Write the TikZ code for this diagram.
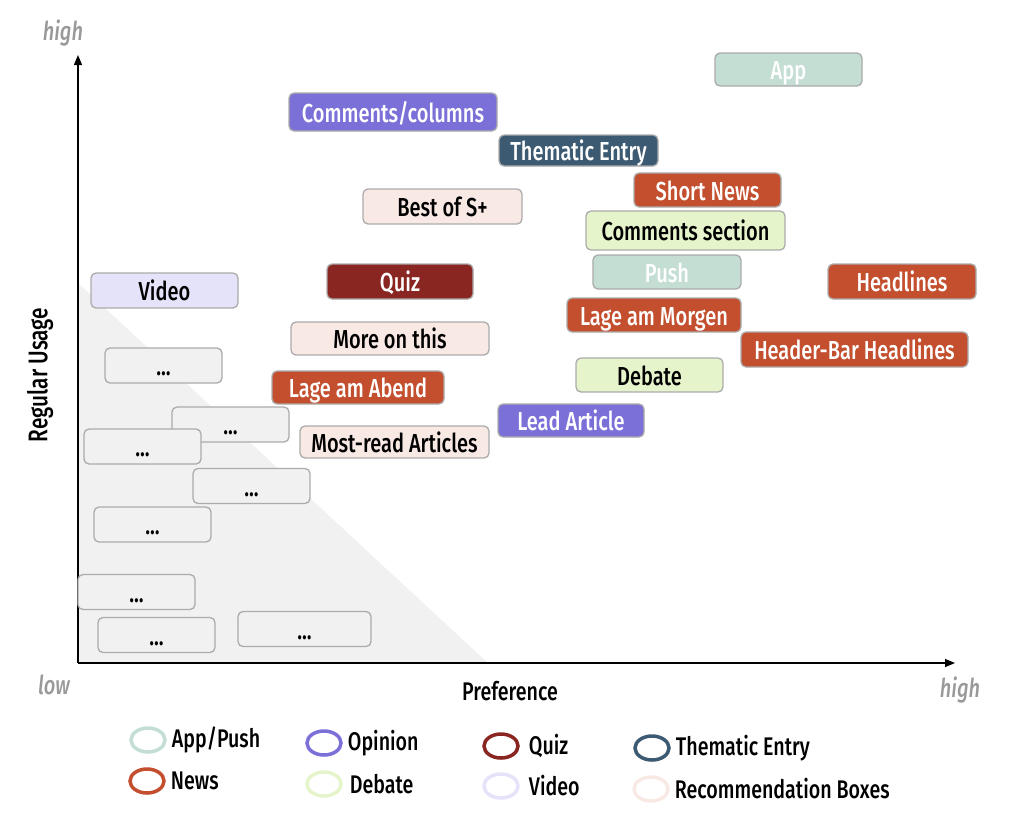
\documentclass[tikz,border=0pt]{standalone}
\usepackage{fontspec}
\setmainfont{Fira Sans}[FakeStretch=0.77, UprightFont=* Medium, ItalicFont=* Medium Italic]
\usetikzlibrary{arrows.meta,positioning,shapes.geometric}
\definecolor{cApp}{HTML}{C4DED4}
\definecolor{cOpinion}{HTML}{7A70D8}
\definecolor{cThema}{HTML}{3D5A73}
\definecolor{cNews}{HTML}{C34F2E}
\definecolor{cReco}{HTML}{F9E9E5}
\definecolor{cDebate}{HTML}{E5F4CB}
\definecolor{cQuiz}{HTML}{8A2622}
\definecolor{cVideo}{HTML}{E5E3F9}
\definecolor{cMisc}{HTML}{F1F1F1}
\definecolor{cLine}{HTML}{ABABAB}
\definecolor{cLow}{HTML}{999999}
\tikzset{
  box/.style={draw=cLine, rounded corners=5pt, line width=1.3pt, inner sep=0pt,
    font=\fontsize{26}{28}\selectfont, text height=24pt, text depth=4pt},
  dots/.style={box, fill=cMisc, minimum width=117pt, minimum height=35pt},
  ring/.style={ellipse, line width=3.5pt, minimum width=34pt, minimum height=24pt, inner sep=0pt},
  legend/.style={font=\fontsize{25.5}{27}\selectfont, inner sep=0pt, anchor=west},
  level/.style={font=\fontsize{26}{28}\selectfont\itshape, text=cLow}
}
\begin{document}
\begin{tikzpicture}[x=1pt,y=-1pt]
\useasboundingbox (0,0) rectangle (1024,815);
% grey corner
\fill[cMisc] (78,283) -- (78,663) -- (488,663) -- cycle;
% axes
\coordinate (O) at (78,663);
\coordinate (ytop) at (78,55);
\coordinate (xend) at (955,663);
\draw[line width=1.2pt,-{Triangle[length=10pt,width=8pt]}] (O) -- (ytop);
\draw[line width=1.2pt,-{Triangle[length=10pt,width=8pt]}] (O) -- (xend);
\node[level] (yhigh) at (63,33) {high};
\node[level] (xlow) at (54,685) {low};
\node[level] (xhigh) at (960,690) {high};
\node[font=\fontsize{25.5}{27}\selectfont] (pref) at (510,691) {Preference};
\node[font=\fontsize{27}{29}\selectfont, rotate=90] (usage) at (40,375) {Regular Usage};
% other features
\node[dots] (d1) at (163.5,365.5) {...};
\node[dots] (d2) at (230.5,424.5) {...};
\node[dots] (d3) at (142.5,446.5) {...};
\node[dots] (d4) at (251.5,486) {...};
\node[dots] (d5) at (152.5,524.5) {...};
\node[dots] (d6) at (136.5,592) {...};
\node[dots] (d7) at (156.5,635) {...};
\node[dots, minimum width=133pt] (d8) at (304.5,629) {...};
% features
\node[box, fill=cApp, text=white, minimum width=147pt, minimum height=33pt] (app) at (788.5,69.5) {App};
\node[box, fill=cOpinion, text=white, minimum width=208pt, minimum height=38pt] (comcol) at (393,112) {Comments/columns};
\node[box, fill=cThema, text=white, minimum width=159pt, minimum height=31pt] (thema) at (578.5,150.5) {Thematic Entry};
\node[box, fill=cNews, text=white, minimum width=147pt, minimum height=34pt] (short) at (707.5,190) {Short News};
\node[box, fill=cReco, minimum width=159pt, minimum height=35pt] (best) at (442.5,206.5) {Best of S+};
\node[box, fill=cDebate, minimum width=199pt, minimum height=39pt] (comsec) at (685.5,230.5) {Comments section};
\node[box, fill=cApp, text=white, minimum width=148pt, minimum height=34pt] (push) at (667,272) {Push};
\node[box, fill=cNews, text=white, minimum width=148pt, minimum height=35pt] (head) at (902,281.5) {Headlines};
\node[box, fill=cVideo, minimum width=147pt, minimum height=35pt] (video) at (164.5,290.5) {Video};
\node[box, fill=cQuiz, text=white, minimum width=146pt, minimum height=35pt] (quiz) at (400,281.5) {Quiz};
\node[box, fill=cNews, text=white, minimum width=174pt, minimum height=34pt] (morgen) at (654,315) {Lage am Morgen};
\node[box, fill=cReco, minimum width=198pt, minimum height=33pt] (more) at (390,338.5) {More on this};
\node[box, fill=cNews, text=white, minimum width=227pt, minimum height=35pt] (hbar) at (854.5,349.5) {Header-Bar Headlines};
\node[box, fill=cDebate, minimum width=147pt, minimum height=34pt] (debate) at (649.5,375) {Debate};
\node[box, fill=cNews, text=white, minimum width=172pt, minimum height=33pt] (abend) at (358,387.5) {Lage am Abend};
\node[box, fill=cOpinion, text=white, minimum width=146pt, minimum height=33pt] (lead) at (571,420.5) {Lead Article};
\node[box, fill=cReco, minimum width=189pt, minimum height=32pt] (mostread) at (394.5,442) {Most-read Articles};
% legend
\node[ring, draw=cApp] (lApp) at (148,740) {};
\node[legend, right=5pt of lApp] {App/Push};
\node[ring, draw=cNews] (lNews) at (147,781) {};
\node[legend, right=5pt of lNews] {News};
\node[ring, draw=cOpinion] (lOpinion) at (324,743) {};
\node[legend, right=5pt of lOpinion] {Opinion};
\node[ring, draw=cDebate] (lDebate) at (324,784) {};
\node[legend, right=7pt of lDebate] {Debate};
\node[ring, draw=cQuiz] (lQuiz) at (501,746) {};
\node[legend, right=9pt of lQuiz] {Quiz};
\node[ring, draw=cVideo] (lVideo) at (501,786) {};
\node[legend, right=9pt of lVideo] {Video};
\node[ring, draw=cThema] (lThema) at (652,748) {};
\node[legend, right=5pt of lThema] {Thematic Entry};
\node[ring, draw=cReco] (lReco) at (651,789) {};
\node[legend, right=5pt of lReco] {Recommendation Boxes};
\end{tikzpicture}
\end{document}
